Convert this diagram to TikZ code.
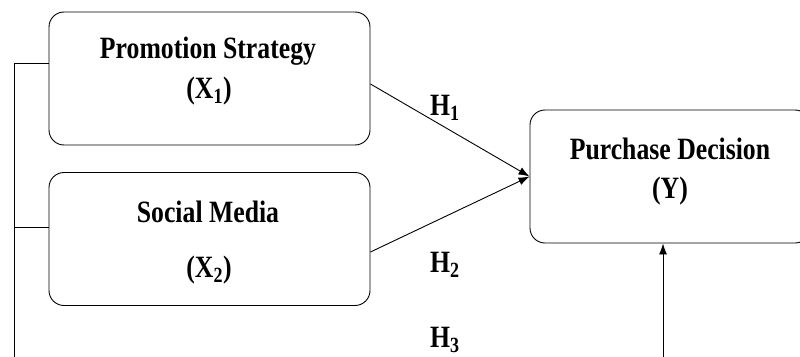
\documentclass[tikz,border=0pt]{standalone}
\usepackage{fontspec}
\setmainfont{Liberation Serif}[FakeStretch=0.83]
\usetikzlibrary{arrows.meta,positioning,calc}

\begin{document}
\begin{tikzpicture}[
    x=1pt, y=-1pt,
    font=\fontsize{31}{33}\selectfont\bfseries,
    varbox/.style={draw, rounded corners=15pt, line width=0.9pt, minimum width=321pt, minimum height=133pt, inner sep=0pt},
    txt/.style={anchor=base, inner sep=0pt},
    hyp/.style={anchor=base west, inner sep=0pt},
    link/.style={line width=0.9pt, -{Latex[length=11pt,width=8pt]}}
]
    \useasboundingbox (0,0) rectangle (800,356);

    % independent variables
    \node[varbox] (px) at (209.5,78.5) {};
    \node[txt] (px-name) at (208,58) {Promotion Strategy};
    \node[txt] (px-sym) at (209,98) {(X\textsubscript{1})};

    \node[varbox] (sm) at (209.5,239) {};
    \node[txt] (sm-name) at (208,222) {Social Media};
    \node[txt] (sm-sym) at (209,277) {(X\textsubscript{2})};

    % dependent variable
    \node[varbox, minimum width=280pt] (pd) at (670,176.5) {};
    \node[txt] (pd-name) at (670,159) {Purchase Decision};
    \node[txt] (pd-sym) at (670,198) {(Y)};

    % hypotheses
    \node[hyp] (h1) at (430,115) {H\textsubscript{1}};
    \node[hyp] (h2) at (430,272) {H\textsubscript{2}};
    \node[hyp] (h3) at (430,347) {H\textsubscript{3}};

    \draw[link] ([yshift=-5.5pt]px.east) -- (pd.west);
    \draw[link] ([yshift=-13pt]sm.east) -- (pd.west);

    % simultaneous path
    \coordinate (base) at (14,357);
    \coordinate (foot) at (663,357);
    \path ([yshift=15.5pt]px.west) coordinate (t1)
          ([yshift=12pt]sm.west) coordinate (t2);
    \draw[line width=0.9pt] (t1) -| (base);
    \draw[line width=0.9pt] (t2) -- (t2 -| base);
    \draw[link] (foot) -- (foot |- pd.south);

\end{tikzpicture}
\end{document}
